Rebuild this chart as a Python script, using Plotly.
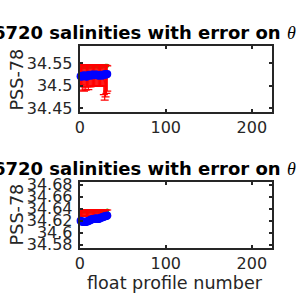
import plotly.graph_objects as go

# ---- data ----
profiles = list(range(1, 33))

# upper theta level
float_sal_top = [34.521, 34.520, 34.522, 34.521, 34.523, 34.522, 34.521, 34.520,
                 34.522, 34.523, 34.524, 34.523, 34.522, 34.524, 34.525, 34.524,
                 34.523, 34.524, 34.525, 34.524, 34.523, 34.522, 34.523, 34.524,
                 34.523, 34.522, 34.524, 34.525, 34.524, 34.526, 34.525, 34.526]
mapped_top = [34.522, 34.522, 34.518, 34.522, 34.517, 34.522, 34.518, 34.522,
              34.522, 34.518, 34.522, 34.522, 34.522, 34.523, 34.523, 34.523,
              34.523, 34.523, 34.523, 34.523, 34.523, 34.522, 34.522, 34.522,
              34.522, 34.522, 34.522, 34.512, 34.507, 34.510, 34.514, 34.516]
err_top = [0.020, 0.024, 0.028, 0.024, 0.029, 0.024, 0.028, 0.024,
           0.024, 0.027, 0.024, 0.024, 0.024, 0.024, 0.024, 0.024,
           0.024, 0.024, 0.024, 0.024, 0.024, 0.023, 0.023, 0.023,
           0.023, 0.023, 0.023, 0.032, 0.039, 0.035, 0.031, 0.028]
cal_top = [34.540, 34.541, 34.542, 34.541, 34.542, 34.542, 34.541, 34.541,
           34.542, 34.542, 34.543, 34.542, 34.542, 34.543, 34.543, 34.543,
           34.542, 34.543, 34.543, 34.543, 34.542, 34.542, 34.542, 34.543,
           34.542, 34.542, 34.543, 34.543, 34.543, 34.544, 34.544, 34.544]

# lower theta level
float_sal_bot = [34.620, 34.619, 34.619, 34.618, 34.619, 34.618, 34.618, 34.619,
                 34.619, 34.620, 34.620, 34.621, 34.622, 34.622, 34.623, 34.623,
                 34.623, 34.624, 34.624, 34.624, 34.623, 34.623, 34.624, 34.625,
                 34.625, 34.626, 34.626, 34.627, 34.627, 34.628, 34.628, 34.629]
mapped_bot = [34.633] * 32
err_bot = [0.005] * 32
cal_bot = [34.636] * 31 + [34.637]

x_ticks = [0, 100, 200]
y_ticks_top = [34.45, 34.5, 34.55]
y_ticks_bot = [34.58, 34.6, 34.62, 34.64, 34.66, 34.68]

title_text = ("6720 salinities with error on "
              "<span style='font-family:Liberation Serif;font-weight:normal'><i>θ</i></span>")

FONT = "DejaVu Sans"
AX = "#262626"

fig = go.Figure()

def add_panel(cal, mapped, err, sal, xa, ya):
    fig.add_trace(go.Scatter(x=profiles, y=cal, mode="lines+markers",
                             line=dict(color="#00cc00", width=1),
                             marker=dict(color="#00cc00", size=4),
                             xaxis=xa, yaxis=ya, cliponaxis=False, showlegend=False))
    fig.add_trace(go.Scatter(x=profiles, y=mapped, mode="lines",
                             line=dict(color="#ff0000", width=1),
                             error_y=dict(type="data", array=err, color="#ff0000",
                                          thickness=1.2, width=4),
                             xaxis=xa, yaxis=ya, cliponaxis=False, showlegend=False))
    fig.add_trace(go.Scatter(x=profiles, y=sal, mode="lines+markers",
                             line=dict(color="#0000ff", width=1),
                             marker=dict(color="#0000ff", size=8),
                             xaxis=xa, yaxis=ya, cliponaxis=False, showlegend=False))

add_panel(cal_top, mapped_top, err_top, float_sal_top, "x", "y")
add_panel(cal_bot, mapped_bot, err_bot, float_sal_bot, "x2", "y2")

xdom = [76 / 300, 272 / 300]
common_x = dict(domain=xdom, range=[0, 224], tickvals=x_ticks,
                ticktext=[str(v) for v in x_ticks], ticks="inside", ticklen=3,
                tickwidth=1.5, tickcolor=AX, showline=True, linecolor=AX, linewidth=2,
                mirror="allticks", showgrid=False, zeroline=False,
                tickfont=dict(family=FONT, size=16, color=AX))
common_y = dict(ticks="inside", ticklen=3, tickwidth=1.5, tickcolor=AX,
                showline=True, linecolor=AX, linewidth=2, mirror="allticks",
                showgrid=False, zeroline=False, ticklabelstandoff=2,
                tickfont=dict(family=FONT, size=16, color=AX))

fig.update_layout(
    width=300, height=300,
    margin=dict(l=0, r=0, t=0, b=0),
    paper_bgcolor="white", plot_bgcolor="white",
    xaxis=dict(anchor="y", **common_x),
    yaxis=dict(anchor="x", domain=[1 - 110 / 300, 1 - 41 / 300], range=[34.4409, 34.5877],
               tickvals=y_ticks_top, ticktext=["34.45", "34.5", "34.55"], **common_y),
    xaxis2=dict(anchor="y2", **common_x),
    yaxis2=dict(anchor="x2", domain=[1 - 251.7 / 300, 1 - 183.3 / 300],
                range=[34.575, 34.684], tickvals=y_ticks_bot,
                ticktext=["34.58", "34.6", "34.62", "34.64", "34.66", "34.68"], **common_y),
    annotations=[
        dict(text="<b>" + title_text + "</b>", xref="paper", yref="paper",
             x=298 / 300, y=1 - 27 / 300, xanchor="right", yanchor="middle",
             showarrow=False, font=dict(family=FONT, size=18, color="black")),
        dict(text="<b>" + title_text + "</b>", xref="paper", yref="paper",
             x=298 / 300, y=1 - 169 / 300, xanchor="right", yanchor="middle",
             showarrow=False, font=dict(family=FONT, size=18, color="black")),
        dict(text="PSS-78", xref="paper", yref="paper", x=12 / 300, y=1 - 76 / 300,
             xanchor="center", yanchor="middle", textangle=-90, showarrow=False,
             font=dict(family=FONT, size=17.6, color=AX)),
        dict(text="PSS-78", xref="paper", yref="paper", x=12 / 300, y=1 - 217 / 300,
             xanchor="center", yanchor="middle", textangle=-90, showarrow=False,
             font=dict(family=FONT, size=17.6, color=AX)),
        dict(text="float profile number", xref="paper", yref="paper", x=173 / 300,
             y=1 - 288 / 300, xanchor="center", yanchor="middle", showarrow=False,
             font=dict(family=FONT, size=17.6, color=AX)),
    ],
)

fig.write_html("out.html")
